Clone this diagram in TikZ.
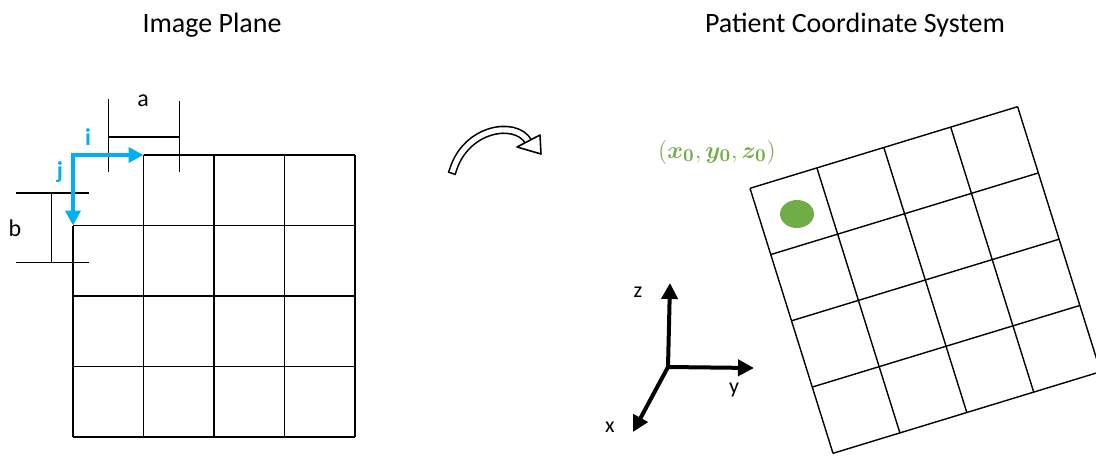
\documentclass[tikz,border=0pt]{standalone}
\usepackage{fontspec}
\setmainfont{Carlito}
\usepackage{bm}
\usetikzlibrary{arrows.meta, shapes.geometric}
\definecolor{IPBlue}{HTML}{00B0F0}
\definecolor{PTGreen}{HTML}{70AD47}

\begin{document}
\begin{tikzpicture}[
        x=0.5pt, y=-0.5pt,
        every node/.style={font=\fontsize{12}{14}\selectfont, inner sep=0pt},
        title/.style={font=\fontsize{14}{16}\selectfont},
        gridline/.style={line width=0.8pt, black},
        dimline/.style={line width=0.7pt, black},
        unitarr/.style={line width=2pt, IPBlue, {Triangle[length=7.5pt, width=7.5pt]}-{Triangle[length=7.5pt, width=7.5pt]}},
        axisarr/.style={line width=2pt, black, line cap=round, -{Triangle[length=8pt, width=8pt]}},
        unitlbl/.style={text=IPBlue, font=\fontsize{12}{14}\selectfont\bfseries},
        axislbl/.style={font=\fontsize{11}{13}\selectfont}
    ]
    \useasboundingbox (0,0) rectangle (1096,455);
    \clip (0,0) rectangle (1096,455);

    % titles
    \node[title] (imgtitle) at (212,25) {Image Plane};
    \node[title] (pattitle) at (855,25) {Patient Coordinate System};

    % image plane grid
    \foreach \c in {1,...,4}
        \draw[gridline] ({73+70.5*\c},155) -- ({73+70.5*\c},437);
    \draw[gridline] (73,225.5) -- (73,437);
    \draw[gridline] (143.5,155) -- (355,155);
    \foreach \r in {1,...,4}
        \draw[gridline] (73,{155+70.5*\r}) -- (355,{155+70.5*\r});

    % pixel spacing a and b
    \draw[dimline] (108.5,99) -- (108.5,172);
    \draw[dimline] (179.5,101) -- (179.5,172);
    \draw[dimline] (108.5,137) -- (179.5,137);
    \draw[dimline] (16,193) -- (89,193);
    \draw[dimline] (16,262.5) -- (89,262.5);
    \draw[dimline] (51.5,193) -- (51.5,262.5);
    \node (alabel) at (143,101) {a};
    \node (blabel) at (15,228) {b};

    % unit vectors i and j
    \coordinate (org) at (73,155);
    \coordinate (itip) at (143.5,155);
    \coordinate (jtip) at (73,225.5);
    \draw[unitarr] (itip) -- (org) -- (jtip);
    \node[unitlbl] (ilabel) at (88,137) {i};
    \node[unitlbl] (jlabel) at (60,172) {j};

    % hollow curved arrow
    \draw[line width=0.8pt, double=white, double distance=2.6pt, line cap=rect] (453,170) .. controls (466,128) and (515,120) .. (528,141);
    \filldraw[line width=0.8pt, fill=white, line join=round] (540,135) -- (541,154) -- (517,147) -- cycle;

    % patient grid
    \begin{scope}[shift={(750,188.3)}, x={(33.45pt,10.2pt)}, y={(10.375pt,-33.125pt)}]
        \foreach \k in {0,...,4} {
            \draw[gridline, line width=0.7pt] (\k,0) -- (\k,4);
            \draw[gridline, line width=0.7pt] (0,\k) -- (4,\k);
        }
    \end{scope}
    \node[ellipse, fill=PTGreen, minimum width=17pt, minimum height=14pt] (dot) at (797,214) {};
    \node[text=PTGreen, font=\fontsize{13}{15}\selectfont] (origin) at (717,152) {$(\bm{x_0}, \bm{y_0}, \bm{z_0})$};

    % patient axes
    \coordinate (ax0) at (668,367);
    \coordinate (zt) at (670,283);
    \coordinate (yt) at (754,368);
    \coordinate (xt) at (633,432);
    \draw[axisarr] (ax0) -- (zt);
    \draw[axisarr] (ax0) -- (yt);
    \draw[axisarr] (ax0) -- (xt);
    \node[axislbl] (zlabel) at (638,292) {z};
    \node[axislbl] (ylabel) at (734,390) {y};
    \node[axislbl] (xlabel) at (610,427) {x};
\end{tikzpicture}
\end{document}
